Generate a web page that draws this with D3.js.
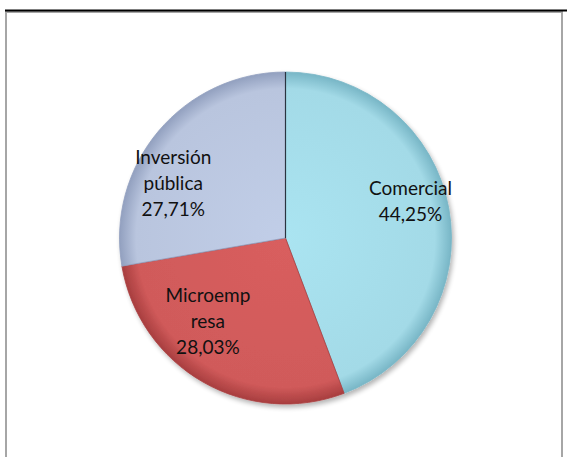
<!DOCTYPE html>
<html><head><meta charset="utf-8">
<script src="https://cdn.jsdelivr.net/npm/d3@7"></script>
<style>html,body{margin:0;padding:0;background:#fff;}</style>
</head><body>
<svg id="c" width="568" height="457"></svg>
<script>
// data
const categories = ["Comercial", "Microempresa", "Inversión pública"];
const values = [44.25, 28.03, 27.71];
const labelLines = [["Comercial", "44,25%"], ["Microemp", "resa", "28,03%"], ["Inversión", "pública", "27,71%"]];
const colors = ["#a3dae7", "#d05a5a", "#b9c5de"];
const edgeColors = ["#78b6c6", "#a83e3f", "#92a0bf"];

// layout
const W = 568, H = 457;
const cx = 285.5, cy = 238, R = 166;
const labelNudge = [[5, -14], [-17, -22], [-19, 25]];
const svg = d3.select("#c");

// frame
svg.append("rect").attr("x", 6).attr("y", 12).attr("width", 556).attr("height", 460)
  .attr("fill", "none").attr("stroke", "#a6a6a6").attr("stroke-width", 2);
svg.append("line").attr("x1", 5).attr("x2", 567).attr("y1", 10.5).attr("y2", 10.5)
  .attr("stroke", "#000").attr("stroke-width", 2);

const defs = svg.append("defs");
colors.forEach((c, i) => {
  const g = defs.append("radialGradient").attr("id", "g" + i)
    .attr("gradientUnits", "userSpaceOnUse").attr("cx", 0).attr("cy", 0).attr("r", R);
  g.append("stop").attr("offset", "0%").attr("stop-color", d3.color(c).brighter(0.12));
  g.append("stop").attr("offset", "90%").attr("stop-color", c);
  g.append("stop").attr("offset", "100%").attr("stop-color", edgeColors[i]);
});
const f = defs.append("filter").attr("id", "sh").attr("x", "-20%").attr("y", "-20%").attr("width", "140%").attr("height", "140%");
f.append("feGaussianBlur").attr("in", "SourceAlpha").attr("stdDeviation", 2.5);
f.append("feOffset").attr("dx", 2).attr("dy", 3).attr("result", "o");
f.append("feComponentTransfer").append("feFuncA").attr("type", "linear").attr("slope", 0.3);
const m = f.append("feMerge");
m.append("feMergeNode");
m.append("feMergeNode").attr("in", "SourceGraphic");

const pie = d3.pie().sort(null).value(d => d)(values);
const arc = d3.arc().innerRadius(0).outerRadius(R);
const labelArc = d3.arc().innerRadius(122).outerRadius(122);

const g = svg.append("g").attr("transform", `translate(${cx},${cy})`);
g.append("g").attr("filter", "url(#sh)").selectAll("path").data(pie).join("path")
  .attr("d", arc).attr("fill", (d, i) => `url(#g${i})`)
  .attr("stroke", (d, i) => edgeColors[i]).attr("stroke-width", 0.8);
// slice separator at top
g.append("line").attr("x1", 0).attr("y1", 0).attr("x2", 0).attr("y2", -R)
  .attr("stroke", "#2a3440").attr("stroke-width", 1.2);

const lh = 26;
pie.forEach((d, i) => {
  const [x, y] = labelArc.centroid(d);
  const lines = labelLines[i];
  const t = g.append("text").attr("text-anchor", "middle")
    .attr("font-family", "Lato, 'Open Sans', sans-serif").attr("font-size", 19).attr("fill", "#111");
  lines.forEach((s, k) => {
    t.append("tspan").attr("x", x + labelNudge[i][0])
      .attr("y", y + labelNudge[i][1] + (k - (lines.length - 1) / 2) * lh + 6).text(s);
  });
});
</script>
</body></html>
